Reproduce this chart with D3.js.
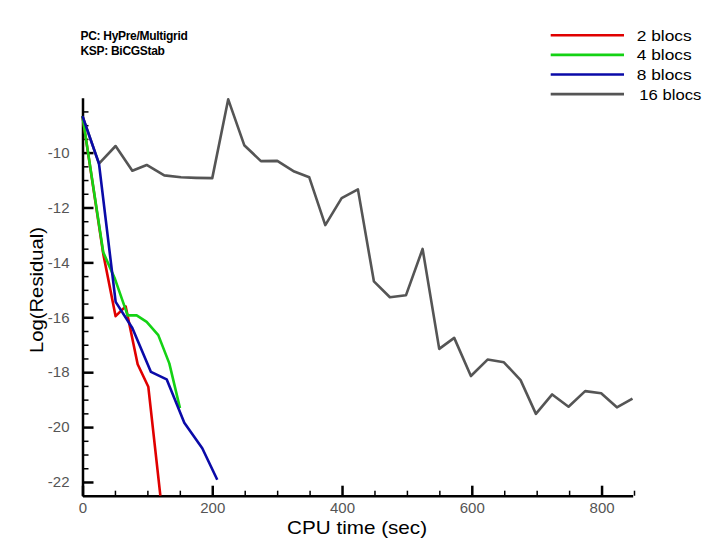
<!DOCTYPE html>
<html>
<head>
<meta charset="utf-8">
<script src="https://cdn.jsdelivr.net/npm/d3@7"></script>
<style>
  html, body { margin: 0; padding: 0; background: #fff; }
  svg { display: block; }
</style>
</head>
<body>
<script>
// ---- data ----
const seriesNames = ["2 blocs", "4 blocs", "8 blocs", "16 blocs"];
const seriesColors = ["#e00000", "#14d214", "#0a0aa8", "#555555"];

const blocs2 = [[0,-8.67],[32,-13.69],[51,-15.96],[66.5,-15.6],[85,-17.71],[101.4,-18.53],[120,-22.5]];
const blocs4 = [[0,-8.67],[32,-13.63],[50,-14.6],[69.6,-15.93],[83.5,-15.93],[98.9,-16.17],[116.8,-16.65],[133.8,-17.68],[150.2,-19.31]];
const blocs8 = [[0,-8.67],[25.4,-10.4],[51.1,-15.44],[76.8,-16.39],[105.5,-17.99],[129.7,-18.26],[156.9,-19.84],[184.6,-20.77],[207.7,-21.92]];
const blocs16 = [[0,-8.67],[25.4,-10.4],[51,-9.76],[76.8,-10.66],[98.9,-10.45],[126,-10.83],[151.8,-10.9],[175,-10.92],[200,-10.93],
  [224.6,-8.06],[249.3,-9.73],[275,-10.31],[300.2,-10.3],[326.4,-10.69],[349.5,-10.9],[374.2,-12.64],[399.4,-11.66],[424.5,-11.34],
  [449.1,-14.69],[473.8,-15.27],[498.5,-15.2],[524.2,-13.51],[549.8,-17.15],[572.9,-16.75],[598.6,-18.14],[624.3,-17.54],[649.5,-17.64],
  [675.2,-18.29],[698.8,-19.52],[723.9,-18.81],[749.1,-19.26],[774.7,-18.69],[799.4,-18.77],[823.6,-19.28],[847.7,-18.96]];
const seriesData = [blocs2, blocs4, blocs8, blocs16];

const xDomain = [0, 848];
const yDomain = [-22.5, -8];
const xMajorTicks = [0, 200, 400, 600, 800];
const xMinorTicks = [50, 100, 150, 250, 300, 350, 450, 500, 550, 650, 700, 750, 850];
const yMajorTicks = [-22, -20, -18, -16, -14, -12, -10];
const yMinorTicks = [-22.5, -21.5, -21, -20.5, -19.5, -19, -18.5, -17.5, -17, -16.5, -15.5, -15, -14.5, -13.5, -13, -12.5, -11.5, -11, -10.5, -9.5, -9, -8.5];

const titleLines = ["PC: HyPre/Multigrid", "KSP: BiCGStab"];
const xLabel = "CPU time (sec)";
const yLabel = "Log(Residual)";

// ---- layout ----
const W = 709, H = 546;
const plotL = 82.5, plotR = 632.7, plotT = 97.7, plotB = 495.7;

const svg = d3.select("body").append("svg").attr("width", W).attr("height", H);

const x = d3.scaleLinear().domain(xDomain).range([plotL, plotR]);
const y = d3.scaleLinear().domain(yDomain).range([plotB, plotT]);

const tickFont = "'Liberation Sans', Arial, sans-serif";

// minor ticks
svg.append("g").attr("transform", `translate(0,${plotB})`)
  .call(d3.axisBottom(x).tickValues(xMinorTicks).tickSizeInner(-5).tickSizeOuter(0).tickFormat(""))
  .call(g => g.select(".domain").remove())
  .call(g => g.selectAll(".tick line").attr("stroke", "#000").attr("stroke-width", 1.5));
svg.append("g").attr("transform", `translate(${plotL},0)`)
  .call(d3.axisLeft(y).tickValues(yMinorTicks).tickSizeInner(-6).tickSizeOuter(0).tickFormat(""))
  .call(g => g.select(".domain").remove())
  .call(g => g.selectAll(".tick line").attr("stroke", "#000").attr("stroke-width", 1.5));

// major axes
const gx = svg.append("g").attr("transform", `translate(0,${plotB})`)
  .call(d3.axisBottom(x).tickValues(xMajorTicks).tickSizeInner(-10).tickSizeOuter(0).tickPadding(6.5).tickFormat(d3.format("d")));
gx.select(".domain").attr("stroke", "#000").attr("stroke-width", 2.5);
gx.selectAll(".tick line").attr("stroke", "#000").attr("stroke-width", 2.5);
gx.selectAll(".tick text").attr("font-family", tickFont).attr("font-size", 15).attr("fill", "#555");

const gy = svg.append("g").attr("transform", `translate(${plotL},0)`)
  .call(d3.axisLeft(y).tickValues(yMajorTicks).tickSizeInner(-11).tickSizeOuter(0).tickPadding(13).tickFormat(d => d3.format("d")(d).replace("−", "-")));
gy.select(".domain").attr("stroke", "#000").attr("stroke-width", 2.5);
gy.selectAll(".tick line").attr("stroke", "#000").attr("stroke-width", 2.5);
gy.selectAll(".tick text").attr("font-family", tickFont).attr("font-size", 15).attr("fill", "#555");

// series lines
const line = d3.line().x(d => x(d[0])).y(d => y(d[1]));
[3, 0, 1, 2].forEach(i => {
  svg.append("path").datum(seriesData[i])
    .attr("d", line)
    .attr("fill", "none")
    .attr("stroke", seriesColors[i])
    .attr("stroke-width", 2.6)
    .attr("stroke-linejoin", "round");
});

// legend
const legend = svg.append("g").attr("font-family", tickFont);
seriesNames.forEach((name, i) => {
  const ly = 35.3 + i * 19.6;
  legend.append("line").attr("x1", 550.7).attr("x2", 624).attr("y1", ly).attr("y2", ly)
    .attr("stroke", seriesColors[i]).attr("stroke-width", 2.6);
  legend.append("text").attr("x", i === 3 ? 639.3 : 636.7).attr("y", ly + 5.5)
    .attr("font-size", 15.5).attr("fill", "#000")
    .attr("textLength", i === 3 ? 62 : 55).attr("lengthAdjust", "spacingAndGlyphs")
    .text(name);
});

// top-left annotation
titleLines.forEach((t, i) => {
  svg.append("text").attr("x", 80.5).attr("y", 40 + i * 15)
    .attr("font-family", tickFont).attr("font-weight", "bold").attr("font-size", 12)
    .attr("fill", "#000").attr("letter-spacing", -0.3)
    .text(t);
});

// axis titles
svg.append("text").attr("x", (286.7 + 427.4) / 2).attr("y", 534)
  .attr("text-anchor", "middle").attr("font-family", tickFont).attr("font-size", 19)
  .attr("fill", "#000").attr("textLength", 140).attr("lengthAdjust", "spacingAndGlyphs")
  .text(xLabel);
svg.append("text").attr("transform", `translate(43,290) rotate(-90)`)
  .attr("text-anchor", "middle").attr("font-family", tickFont).attr("font-size", 18)
  .attr("fill", "#000").attr("textLength", 126).attr("lengthAdjust", "spacingAndGlyphs")
  .text(yLabel);
</script>
</body>
</html>
